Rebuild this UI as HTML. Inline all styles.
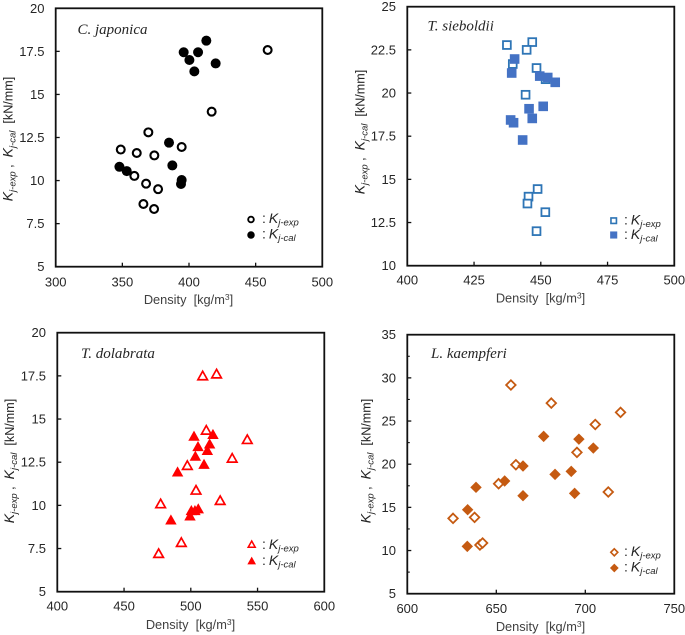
<!DOCTYPE html>
<html lang="en">
<head>
<meta charset="utf-8">
<title>Density vs joint stiffness</title>
<style>
html,body{margin:0;padding:0;background:#fff;}
svg{display:block;font-family:"Liberation Sans",sans-serif;filter:blur(0.35px);}
.tick{font-size:13px;fill:#262626;}
.axt{font-size:12.8px;fill:#404040;}
.ytl{font-size:12.6px;fill:#262626;}
.it{font-style:italic;}
.sp{font-family:"Liberation Serif",serif;font-style:italic;font-size:15px;fill:#262626;}
.lg{font-size:14px;fill:#262626;}
</style>
</head>
<body>
<svg id="chart" xmlns="http://www.w3.org/2000/svg" width="685" height="635" viewBox="0 0 685 635">
  <rect x="0" y="0" width="685" height="635" fill="#fff"/>

  <g id="p1">
    <text class="sp" x="77.5" y="34">C. japonica</text>
    <text class="axt" x="188.5" y="304" text-anchor="middle">Density&#160; [kg/m<tspan dy="-4" font-size="8.5">3</tspan><tspan dy="4">]</tspan></text>
    <text class="ytl" transform="translate(12.5 139) rotate(-90)" text-anchor="middle"><tspan class="it" font-size="14">K</tspan><tspan class="it" font-size="9.5" dy="3">j-exp</tspan><tspan dy="-3"> ,&#160; </tspan><tspan class="it" font-size="14">K</tspan><tspan class="it" font-size="9.5" dy="3">j-cal</tspan><tspan dy="-3">&#160; [kN/mm]</tspan></text>
    <text class="lg" x="262" y="223">:<tspan class="it" dx="3">K</tspan><tspan class="it" font-size="9.5" dy="2.5">j-exp</tspan></text>
    <text class="lg" x="262" y="238.5">:<tspan class="it" dx="3">K</tspan><tspan class="it" font-size="9.5" dy="2.5">j-cal</tspan></text>
  </g>

  <g id="p2">
    <text class="sp" x="427.5" y="30.5">T. sieboldii</text>
    <text class="axt" x="540.5" y="302.5" text-anchor="middle">Density&#160; [kg/m<tspan dy="-4" font-size="8.5">3</tspan><tspan dy="4">]</tspan></text>
    <text class="ytl" transform="translate(364.5 132) rotate(-90)" text-anchor="middle"><tspan class="it" font-size="14">K</tspan><tspan class="it" font-size="9.5" dy="3">j-exp</tspan><tspan dy="-3"> ,&#160; </tspan><tspan class="it" font-size="14">K</tspan><tspan class="it" font-size="9.5" dy="3">j-cal</tspan><tspan dy="-3">&#160; [kN/mm]</tspan></text>
    <text class="lg" x="624" y="224.5">:<tspan class="it" dx="3">K</tspan><tspan class="it" font-size="9.5" dy="2.5">j-exp</tspan></text>
    <text class="lg" x="624" y="239">:<tspan class="it" dx="3">K</tspan><tspan class="it" font-size="9.5" dy="2.5">j-cal</tspan></text>
  </g>

  <g id="p3">
    <text class="sp" x="81" y="358">T. dolabrata</text>
    <text class="axt" x="190.5" y="629" text-anchor="middle">Density&#160; [kg/m<tspan dy="-4" font-size="8.5">3</tspan><tspan dy="4">]</tspan></text>
    <text class="ytl" transform="translate(14 461) rotate(-90)" text-anchor="middle"><tspan class="it" font-size="14">K</tspan><tspan class="it" font-size="9.5" dy="3">j-exp</tspan><tspan dy="-3"> ,&#160; </tspan><tspan class="it" font-size="14">K</tspan><tspan class="it" font-size="9.5" dy="3">j-cal</tspan><tspan dy="-3">&#160; [kN/mm]</tspan></text>
    <text class="lg" x="262" y="549">:<tspan class="it" dx="3">K</tspan><tspan class="it" font-size="9.5" dy="2.5">j-exp</tspan></text>
    <text class="lg" x="262" y="565">:<tspan class="it" dx="3">K</tspan><tspan class="it" font-size="9.5" dy="2.5">j-cal</tspan></text>
  </g>

  <g id="p4">
    <text class="sp" x="431" y="358">L. kaempferi</text>
    <text class="axt" x="540.5" y="631" text-anchor="middle">Density&#160; [kg/m<tspan dy="-4" font-size="8.5">3</tspan><tspan dy="4">]</tspan></text>
    <text class="ytl" transform="translate(370.5 461) rotate(-90)" text-anchor="middle"><tspan class="it" font-size="14">K</tspan><tspan class="it" font-size="9.5" dy="3">j-exp</tspan><tspan dy="-3"> ,&#160; </tspan><tspan class="it" font-size="14">K</tspan><tspan class="it" font-size="9.5" dy="3">j-cal</tspan><tspan dy="-3">&#160; [kN/mm]</tspan></text>
    <text class="lg" x="624" y="556">:<tspan class="it" dx="3">K</tspan><tspan class="it" font-size="9.5" dy="2.5">j-exp</tspan></text>
    <text class="lg" x="624" y="571.5">:<tspan class="it" dx="3">K</tspan><tspan class="it" font-size="9.5" dy="2.5">j-cal</tspan></text>
  </g>
</svg>

<script>
// ---- Data: C. japonica
const p1ExpDensity = [459, 417, 369.5, 348.8, 360.8, 374, 394.5, 359, 367.8, 376.8, 365.8, 373.8];
const p1ExpK = [17.58, 14, 12.8, 11.8, 11.6, 11.46, 11.95, 10.27, 9.82, 9.5, 8.64, 8.35];
const p1CalDensity = [413, 396, 406.8, 400.3, 420, 404, 385, 387.5, 347.8, 353.3, 394.5, 394];
const p1CalK = [18.12, 17.45, 17.45, 17, 16.8, 16.34, 12.2, 10.88, 10.8, 10.55, 10.03, 9.8];
const p1XTicks = [300, 350, 400, 450, 500];
const p1YTicks = [5, 7.5, 10, 12.5, 15, 17.5, 20];
const p1YLabels = ['5', '7.5', '10', '12.5', '15', '17.5', '20'];

// ---- Data: T. sieboldii
const p2ExpDensity = [437.3, 446.8, 444.7, 439.5, 448.4, 451.8, 444.3, 448.8, 445.4, 445, 451.7, 448.4];
const p2ExpK = [22.78, 22.95, 22.5, 21.68, 21.45, 20.8, 19.9, 14.44, 14, 13.6, 13.1, 12];
const p2CalDensity = [440.2, 439.1, 449.6, 452.6, 455.4, 450.9, 445.6, 446.8, 438.7, 439.8, 443.2];
const p2CalK = [21.97, 21.16, 20.98, 20.9, 20.62, 19.23, 19.09, 18.53, 18.44, 18.28, 17.28];
const p2XTicks = [400, 425, 450, 475, 500];
const p2YTicks = [10, 12.5, 15, 17.5, 20, 22.5, 25];
const p2YLabels = ['10', '12.5', '15', '17.5', '20', '22.5', '25'];

// ---- Data: T. dolabrata
const p3ExpDensity = [508.9, 519.3, 511.6, 542.3, 531, 497.4, 503.9, 522, 477.4, 492.9, 475.9];
const p3ExpK = [17.49, 17.6, 14.34, 13.8, 12.72, 12.3, 10.87, 10.27, 10.08, 7.84, 7.2];
const p3CalDensity = [502.4, 516.6, 505.4, 514.1, 512.4, 503.4, 509.9, 490.1, 505.6, 503.1, 500.4, 499.4, 485.1];
const p3CalK = [14, 14.1, 13.4, 13.55, 13.17, 12.84, 12.37, 11.93, 9.79, 9.69, 9.69, 9.38, 9.15];
const p3XTicks = [400, 450, 500, 550, 600];
const p3YTicks = [5, 7.5, 10, 12.5, 15, 17.5, 20];
const p3YLabels = ['5', '7.5', '10', '12.5', '15', '17.5', '20'];

// ---- Data: L. kaempferi
const p4ExpDensity = [658.2, 680.9, 719.8, 705.6, 695.3, 661, 651.3, 712.9, 625.7, 637.8, 640.8, 642.3];
const p4ExpK = [29.17, 27.08, 26, 24.6, 21.37, 19.94, 17.74, 16.78, 13.73, 13.84, 10.64, 10.87];
const p4CalDensity = [676.6, 696.4, 704.5, 665, 683, 692.1, 654.7, 638.6, 665, 694, 633.9, 633.7];
const p4CalK = [23.22, 22.9, 21.87, 19.79, 18.82, 19.17, 18.05, 17.32, 16.35, 16.62, 14.73, 10.48];
const p4XTicks = [600, 650, 700, 750];
const p4YTicks = [5, 10, 15, 20, 25, 30, 35];
const p4YLabels = ['5', '10', '15', '20', '25', '30', '35'];
const p4YMinorTicks = [7.5, 12.5, 17.5, 22.5, 27.5, 32.5];

// ---- Rendering
const NS = 'http://www.w3.org/2000/svg';

function make(parent, tag, attrs) {
  const el = document.createElementNS(NS, tag);
  Object.keys(attrs).forEach(function (k) { el.setAttribute(k, attrs[k]); });
  parent.appendChild(el);
  return el;
}

function marker(parent, shape, cx, cy, size, filled, color, sw) {
  const inner = filled ? size / 2 : size / 2 - sw / 2;
  const style = { fill: filled ? color : '#fff', stroke: filled ? 'none' : color, 'stroke-width': sw };
  if (shape === 'circle') {
    style.cx = cx; style.cy = cy; style.r = inner;
    return make(parent, 'circle', style);
  }
  if (shape === 'square') {
    style.x = cx - inner; style.y = cy - inner; style.width = inner * 2; style.height = inner * 2;
    return make(parent, 'rect', style);
  }
  let pts;
  if (shape === 'triangle') {
    pts = [[cx, cy - inner * 1.1], [cx + inner * 1.1, cy + inner * 0.85], [cx - inner * 1.1, cy + inner * 0.85]];
  } else {
    pts = [[cx, cy - inner * 1.08], [cx + inner * 1.08, cy], [cx, cy + inner * 1.08], [cx - inner * 1.08, cy]];
  }
  style.points = pts.map(function (p) { return p.join(','); }).join(' ');
  style['stroke-linejoin'] = 'miter';
  return make(parent, 'polygon', style);
}

function drawPanel(cfg) {
  const g = document.getElementById(cfg.id);
  const xMin = cfg.xTicks[0], xMax = cfg.xTicks[cfg.xTicks.length - 1];
  const yMin = cfg.yTicks[0], yMax = cfg.yTicks[cfg.yTicks.length - 1];
  const sx = function (v) { return cfg.left + (v - xMin) / (xMax - xMin) * (cfg.right - cfg.left); };
  const sy = function (v) { return cfg.bottom - (v - yMin) / (yMax - yMin) * (cfg.bottom - cfg.top); };

  const frame = make(g, 'rect', { x: cfg.left, y: cfg.top, width: cfg.right - cfg.left, height: cfg.bottom - cfg.top, fill: 'none', stroke: '#111', 'stroke-width': 1.8 });
  
  

  cfg.xTicks.forEach(function (v) {
    const x = sx(v);
    if (v !== xMin && v !== xMax) {
      const t = make(g, 'line', { x1: x, x2: x, y1: cfg.bottom, y2: cfg.bottom - 4, stroke: '#111', 'stroke-width': 1.3 });
      
      
    }
    const lab = make(g, 'text', { x: x, y: cfg.xLabelY, 'text-anchor': 'middle', class: 'tick' });
    lab.textContent = String(v);
    
    
  });

  cfg.yTicks.forEach(function (v, i) {
    const y = sy(v);
    if (v !== yMin && v !== yMax) {
      const t = make(g, 'line', { x1: cfg.left, x2: cfg.left + 4, y1: y, y2: y, stroke: '#111', 'stroke-width': 1.3 });
      
      
    }
    const lab = make(g, 'text', { x: cfg.yLabelX, y: y + 4.5, 'text-anchor': 'end', class: 'tick' });
    lab.textContent = cfg.yLabels[i];
    
    
  });

  (cfg.yMinor || []).forEach(function (v) {
    const y = sy(v);
    const t = make(g, 'line', { x1: cfg.left, x2: cfg.left + 2.5, y1: y, y2: y, stroke: '#111', 'stroke-width': 1.1 });
    
    
  });

  cfg.expX.forEach(function (v, i) {
    const m = marker(g, cfg.shape, sx(v), sy(cfg.expY[i]), cfg.size, false, cfg.expColor, cfg.sw);
    
    
  });
  cfg.calX.forEach(function (v, i) {
    const m = marker(g, cfg.shape, sx(v), sy(cfg.calY[i]), cfg.size, true, cfg.calColor, 0);
    
    
  });

  const l1 = marker(g, cfg.shape, cfg.legendX, cfg.legendExpY, cfg.size - 2.5, false, cfg.expColor, cfg.sw * 0.9);
  
  
  const l2 = marker(g, cfg.shape, cfg.legendX, cfg.legendCalY, cfg.size - 2.5, true, cfg.calColor, 0);
  
  
}

drawPanel({ id: 'p1', left: 55.7, right: 322.3, top: 8.3, bottom: 266.7, xLabelY: 286.5, yLabelX: 44.5,
  xTicks: p1XTicks, yTicks: p1YTicks, yLabels: p1YLabels, expX: p1ExpDensity, expY: p1ExpK, calX: p1CalDensity, calY: p1CalK,
  shape: 'circle', size: 10, sw: 2.1, expColor: '#000', calColor: '#000', legendX: 251, legendExpY: 219.5, legendCalY: 235 });
drawPanel({ id: 'p2', left: 407.3, right: 674.3, top: 6.7, bottom: 265.7, xLabelY: 284.5, yLabelX: 396,
  xTicks: p2XTicks, yTicks: p2YTicks, yLabels: p2YLabels, expX: p2ExpDensity, expY: p2ExpK, calX: p2CalDensity, calY: p2CalK,
  shape: 'square', size: 9.6, sw: 1.8, expColor: '#2e75b6', calColor: '#4472c4', legendX: 613.7, legendExpY: 220.7, legendCalY: 235 });
drawPanel({ id: 'p3', left: 57.3, right: 324.3, top: 332.7, bottom: 591.7, xLabelY: 610.5, yLabelX: 46,
  xTicks: p3XTicks, yTicks: p3YTicks, yLabels: p3YLabels, expX: p3ExpDensity, expY: p3ExpK, calX: p3CalDensity, calY: p3CalK,
  shape: 'triangle', size: 10.4, sw: 1.7, expColor: '#ff0000', calColor: '#ff0000', legendX: 251.7, legendExpY: 544.5, legendCalY: 561 });
drawPanel({ id: 'p4', left: 407.3, right: 674.3, top: 334.7, bottom: 593.7, xLabelY: 613, yLabelX: 396,
  xTicks: p4XTicks, yTicks: p4YTicks, yLabels: p4YLabels, yMinor: p4YMinorTicks, expX: p4ExpDensity, expY: p4ExpK, calX: p4CalDensity, calY: p4CalK,
  shape: 'diamond', size: 10.6, sw: 1.8, expColor: '#c55a11', calColor: '#c55a11', legendX: 614.3, legendExpY: 552.3, legendCalY: 568 });
</script>
</body>
</html>
